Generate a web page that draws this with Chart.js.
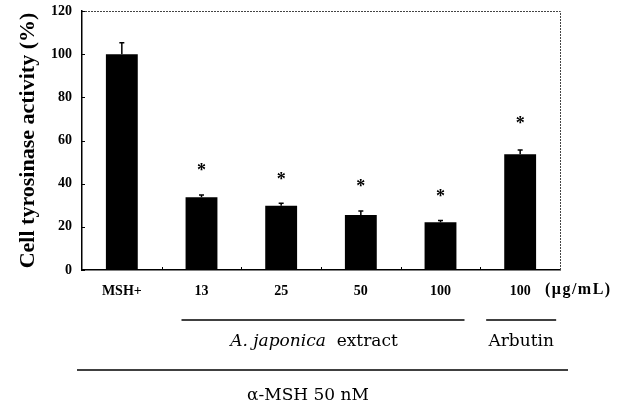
<!DOCTYPE html>
<html lang="en">
<head>
<meta charset="UTF-8" />
<title>Cell tyrosinase activity</title>
<style>
  html, body { margin: 0; padding: 0; background: #fff; }
  canvas { display: block; }
</style>
</head>
<body>
<canvas id="chart" width="624" height="406"></canvas>
<script src="https://cdn.jsdelivr.net/npm/chart.js"></script>
<script>
  // values
  const categories = ["MSH+", "13", "25", "50", "100", "100"];
  const activity = [100, 33.7, 29.8, 25.5, 22.1, 53.6];
  const errorPlus = [5.3, 1.1, 1.1, 1.8, 0.8, 2.0];
  const starAt = [null, 47.7, 43.6, 40.3, 35.7, 69.5];
  const yTicks = [0, 20, 40, 60, 80, 100, 120];
  const groupLabels = ["A. japonica", "Arbutin"];
  const groupFirst = [1, 5];
  const groupLast = [4, 5];
  const unitLabel = "(\u03bcg/mL)";
  const treatmentLabel = "\u03b1-MSH 50 nM";

  const serif = "'Liberation Serif', 'Times New Roman', serif";
  const labelFont = "17px 'DejaVu Serif', serif";
  // how far each group line reaches past its first / last bar centre
  const groupPad = [[20, 24], [34, 36]];

  const extras = {
    id: "extras",
    afterDatasetsDraw(chart) {
      const { ctx, chartArea: a, scales: { x, y } } = chart;
      ctx.save();

      // dotted top and right frame
      ctx.strokeStyle = "#444";
      ctx.lineWidth = 1;
      ctx.setLineDash([2, 1]);
      ctx.beginPath();
      ctx.moveTo(a.left, a.top + 0.5);
      ctx.lineTo(a.right + 0.5, a.top + 0.5);
      ctx.lineTo(a.right + 0.5, a.bottom);
      ctx.stroke();
      ctx.setLineDash([]);

      // little inward ticks
      ctx.strokeStyle = "#000";
      ctx.lineWidth = 1;
      ctx.beginPath();
      yTicks.forEach(v => {
        const py = Math.round(y.getPixelForValue(v)) + 0.5;
        ctx.moveTo(a.left, py);
        ctx.lineTo(a.left + 3, py);
      });
      for (let i = 0; i < categories.length - 1; i++) {
        const px = Math.round((x.getPixelForValue(i) + x.getPixelForValue(i + 1)) / 2) + 0.5;
        ctx.moveTo(px, a.bottom);
        ctx.lineTo(px, a.bottom - 3);
      }
      ctx.stroke();

      // upper error bars
      ctx.lineWidth = 1.5;
      activity.forEach((v, i) => {
        const cx = x.getPixelForValue(i);
        const top = y.getPixelForValue(v + errorPlus[i]);
        ctx.beginPath();
        ctx.moveTo(cx, y.getPixelForValue(v));
        ctx.lineTo(cx, top);
        ctx.moveTo(cx - 2.5, top);
        ctx.lineTo(cx + 2.5, top);
        ctx.stroke();
      });

      // significance stars
      ctx.fillStyle = "#000";
      ctx.font = "bold 18px " + serif;
      ctx.textAlign = "center";
      ctx.textBaseline = "alphabetic";
      const m = ctx.measureText("*");
      const mid = (m.actualBoundingBoxAscent - m.actualBoundingBoxDescent) / 2;
      starAt.forEach((v, i) => {
        if (v === null) return;
        ctx.fillText("*", x.getPixelForValue(i), y.getPixelForValue(v) + mid);
      });
      ctx.restore();
    },
    afterDraw(chart) {
      const { ctx, chartArea: a, scales: { x } } = chart;
      ctx.save();
      ctx.fillStyle = "#000";
      ctx.strokeStyle = "#000";
      ctx.textBaseline = "middle";

      // unit after the last tick label
      ctx.font = "bold 16px " + serif;
      ctx.letterSpacing = "1.5px";
      ctx.textAlign = "left";
      ctx.fillText(unitLabel, a.right - 15, a.bottom + 20);
      ctx.letterSpacing = "0px";

      // group lines and names
      ctx.lineWidth = 1.5;
      groupLabels.forEach((name, g) => {
        const x0 = x.getPixelForValue(groupFirst[g]) - groupPad[g][0];
        const x1 = x.getPixelForValue(groupLast[g]) + groupPad[g][1];
        ctx.beginPath();
        ctx.moveTo(x0, a.bottom + 50);
        ctx.lineTo(x1, a.bottom + 50);
        ctx.stroke();
        const cx = (x0 + x1) / 2 - (g === 0 ? 9 : 0);
        ctx.textAlign = "center";
        if (g === 0) {
          ctx.font = "italic " + labelFont;
          const w1 = ctx.measureText(name + " ").width;
          ctx.font = labelFont;
          const w2 = ctx.measureText(" extract").width;
          const left = cx - (w1 + w2) / 2;
          ctx.textAlign = "left";
          ctx.font = "italic " + labelFont;
          ctx.fillText(name + " ", left, a.bottom + 72);
          ctx.font = labelFont;
          ctx.fillText(" extract", left + w1, a.bottom + 72);
        } else {
          ctx.font = labelFont;
          ctx.fillText(name, cx, a.bottom + 72);
        }
      });

      // treatment line across everything
      ctx.beginPath();
      ctx.moveTo(a.left - 5, a.bottom + 100);
      ctx.lineTo(a.right + 8, a.bottom + 100);
      ctx.stroke();
      ctx.font = labelFont;
      ctx.textAlign = "center";
      ctx.fillText(treatmentLabel, a.left + 226, a.bottom + 126);
      ctx.restore();
    }
  };

  new Chart(document.getElementById("chart"), {
    type: "bar",
    data: {
      labels: categories,
      datasets: [{
        data: activity,
        backgroundColor: "#000",
        barPercentage: 0.4,
        categoryPercentage: 1
      }]
    },
    options: {
      responsive: false,
      animation: false,
      plugins: { legend: { display: false }, tooltip: { enabled: false } },
      layout: { padding: { left: 11, right: 64, top: 11, bottom: 0 } },
      scales: {
        x: {
          grid: { display: false, drawTicks: false },
          border: { color: "#000", width: 1.5 },
          ticks: { color: "#000", font: { family: serif, weight: "bold", size: 14 }, padding: 13, maxRotation: 0 },
          afterFit: s => { s.height = 136; }
        },
        y: {
          min: 0,
          max: 120,
          afterBuildTicks: s => { s.ticks = yTicks.map(v => ({ value: v })); },
          grid: { display: false, drawTicks: false },
          border: { color: "#000", width: 1.5 },
          ticks: { color: "#000", font: { family: serif, weight: "bold", size: 14 }, padding: 10 },
          title: {
            display: true,
            text: "Cell tyrosinase activity (%)",
            color: "#000",
            font: { family: serif, weight: "bold", size: 22 },
            padding: { top: 4, bottom: 0 }
          },
          afterFit: s => { s.width = 71; s.paddingTop = 0; s.paddingBottom = 0; }
        }
      }
    },
    plugins: [extras]
  });
</script>
</body>
</html>
